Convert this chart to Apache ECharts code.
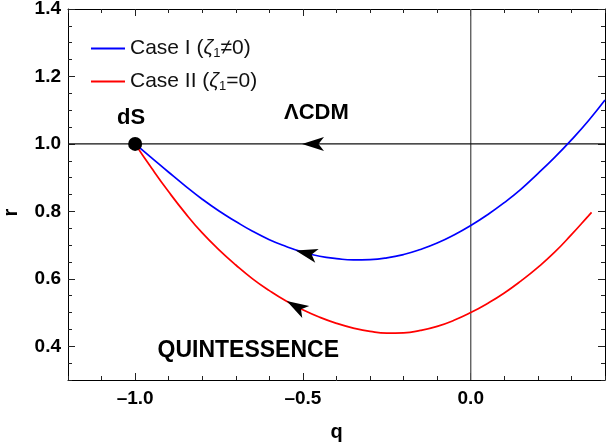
<!DOCTYPE html>
<html>
<head>
<meta charset="utf-8">
<script src="https://cdn.jsdelivr.net/npm/echarts@6/dist/echarts.min.js"></script>
<style>
  html, body { margin: 0; padding: 0; background: #fff; }
  #chart { width: 606px; height: 446px; }
</style>
</head>
<body>
<div id="chart"></div>
<script>
// q grid shared by both trajectories
const qGrid = [-1.00, -0.95, -0.90, -0.85, -0.80, -0.75, -0.70, -0.65, -0.60, -0.55,
  -0.50, -0.45, -0.40, -0.35, -0.30, -0.25, -0.20, -0.15, -0.10, -0.05,
  0.00, 0.05, 0.10, 0.15, 0.20, 0.25, 0.30, 0.35, 0.40]
// Case I (zeta1 != 0)
const blueR = [1.000, 0.958, 0.916, 0.875, 0.836, 0.801, 0.770, 0.741, 0.716, 0.696,
  0.679, 0.667, 0.660, 0.656, 0.657, 0.662, 0.672, 0.687, 0.706, 0.730,
  0.758, 0.790, 0.826, 0.866, 0.912, 0.960, 1.012, 1.068, 1.130]
// Case II (zeta1 = 0)
const redQ = [-1.00, -0.95, -0.90, -0.85, -0.80, -0.75, -0.70, -0.65, -0.60, -0.55,
  -0.50, -0.45, -0.40, -0.35, -0.30, -0.25, -0.20, -0.15, -0.10, -0.05,
  0.00, 0.05, 0.10, 0.15, 0.20, 0.25, 0.30, 0.35, 0.36]
const redR = [1.000, 0.927, 0.858, 0.794, 0.736, 0.686, 0.641, 0.600, 0.565, 0.534,
  0.508, 0.486, 0.468, 0.454, 0.444, 0.439, 0.440, 0.447, 0.459, 0.477,
  0.500, 0.527, 0.558, 0.594, 0.634, 0.679, 0.731, 0.786, 0.797]

const xMajor = [-1.0, -0.5, 0.0]
const xMinor = [-1.2, -1.1, -0.9, -0.8, -0.7, -0.6, -0.4, -0.3, -0.2, -0.1, 0.1, 0.2, 0.3, 0.4]
const yMajor = [0.4, 0.6, 0.8, 1.0, 1.2, 1.4]
const yMinor = [0.3, 0.35, 0.45, 0.5, 0.55, 0.65, 0.7, 0.75, 0.85, 0.9, 0.95, 1.05, 1.1, 1.15, 1.25, 1.3, 1.35]

const dSPoint = [-1.0, 1.0]
const lcdmLine = [[-1.2, 1.0], [0.4, 1.0]]
const qZeroLine = [[0.0, 0.3], [0.0, 1.4]]
// arrow heads: position on curve and tilt (deg)
const arrowPts = [[-0.49, 0.676], [-0.52, 0.518], [-0.47, 1.0]]
const arrowTilt = [14, 30, 0]
const annotText = ['dS', 'ΛCDM', 'QUINTESSENCE']
const annotPos = [[-1.012, 1.078], [-0.46, 1.092], [-0.663, 0.388]]
const annotSize = [22, 22, 23]

const font = 'Liberation Sans, Arial, sans-serif'
const zip = (a, b) => a.map((v, i) => [v, b[i]])
const fmt = (v) => v.toFixed(1).replace('-', '\u2013')

function xAxis(pos, ticks, len, withLabels, withLine) {
  return {
    type: 'value', position: pos, min: -1.2, max: 0.4,
    axisLine: { show: withLine, onZero: false, lineStyle: { color: '#000', width: 1 } },
    axisTick: { show: true, inside: true, length: len, customValues: ticks, lineStyle: { color: '#222', width: 1 } },
    axisLabel: withLabels
      ? { show: true, customValues: xMajor, formatter: fmt, fontFamily: font, fontWeight: 'bold', fontSize: 19, color: '#000', margin: 9 }
      : { show: false },
    splitLine: { show: false },
    name: withLabels ? 'q' : '', nameLocation: 'middle', nameGap: 42,
    nameTextStyle: { fontFamily: font, fontWeight: 'bold', fontSize: 20, color: '#000' }
  }
}
function yAxis(pos, ticks, len, withLabels, withLine) {
  return {
    type: 'value', position: pos, min: 0.3, max: 1.4,
    axisLine: { show: withLine, onZero: false, lineStyle: { color: '#000', width: 1 } },
    axisTick: { show: true, inside: true, length: len, customValues: ticks, lineStyle: { color: '#222', width: 1 } },
    axisLabel: withLabels
      ? { show: true, customValues: yMajor, formatter: fmt, fontFamily: font, fontWeight: 'bold', fontSize: 19, color: '#000', margin: 7 }
      : { show: false },
    splitLine: { show: false },
    name: withLabels ? 'r' : '', nameLocation: 'middle', nameGap: 47, nameRotate: 90,
    nameTextStyle: { fontFamily: font, fontWeight: 'bold', fontSize: 20, color: '#000', padding: [0, 36, 0, 0] }
  }
}

const chart = echarts.init(document.getElementById('chart'))
chart.setOption({
  animation: false,
  backgroundColor: '#fff',
  grid: { left: 68, right: 1, top: 9, bottom: 66, containLabel: false, outerBoundsMode: 'none' },
  xAxis: [
    xAxis('bottom', xMajor, 7, true, true),
    xAxis('bottom', xMinor, 4, false, false),
    xAxis('top', xMajor, 7, false, true),
    xAxis('top', xMinor, 4, false, false)
  ],
  yAxis: [
    yAxis('left', yMajor, 7, true, true),
    yAxis('left', yMinor, 4, false, false),
    yAxis('right', yMajor, 7, false, true),
    yAxis('right', yMinor, 4, false, false)
  ],
  legend: {
    orient: 'vertical', left: 86, top: 33, itemWidth: 34, itemHeight: 2, itemGap: 11,
    icon: 'rect', data: ['Case I', 'Case II'],
    formatter: (name) => name === 'Case I' ? 'Case I ({z|ζ}{s|1}≠0)' : 'Case II ({z|ζ}{s|1}=0)',
    textStyle: {
      fontFamily: font, fontSize: 21, color: '#111',
      rich: {
        z: { fontFamily: font, fontSize: 21, fontStyle: 'italic', color: '#111' },
        s: { fontFamily: font, fontSize: 13, color: '#111', padding: [10, 0, 0, 0] }
      }
    }
  },
  series: [
    {
      type: 'line', name: 'qzero', data: qZeroLine, symbol: 'none', silent: true,
      lineStyle: { color: '#555', width: 1.3 }, z: 1
    },
    {
      type: 'line', name: 'lcdm', data: lcdmLine, symbol: 'none', silent: true,
      lineStyle: { color: '#111', width: 1.1 }, z: 1,
      markPoint: {
        symbol: 'path://M0,6 L16,0 L12,6 L16,12 Z',
        symbolSize: [22, 14],
        itemStyle: { color: '#000' },
        label: { show: false },
        data: arrowPts.map((p, i) => ({ coord: p, symbolRotate: -arrowTilt[i] }))
      }
    },
    {
      type: 'line', name: 'Case I', data: zip(qGrid, blueR), symbol: 'none', smooth: 0.5,
      lineStyle: { color: '#0000ff', width: 1.7 }, itemStyle: { color: '#0000ff' }, z: 2
    },
    {
      type: 'line', name: 'Case II', data: zip(redQ, redR), symbol: 'none', smooth: 0.5,
      lineStyle: { color: '#ff0000', width: 1.7 }, itemStyle: { color: '#ff0000' }, z: 2
    },
    {
      type: 'scatter', name: 'dS', data: [dSPoint], symbolSize: 14,
      itemStyle: { color: '#000', opacity: 1 }, z: 5
    },
    {
      type: 'scatter', name: 'labels', symbolSize: 0, z: 6,
      itemStyle: { opacity: 1 },
      data: annotPos.map((p, i) => ({
        value: p, name: annotText[i],
        label: { fontSize: annotSize[i] }
      })),
      label: {
        show: true, position: 'inside', formatter: '{b}',
        fontFamily: font, fontWeight: 'bold', color: '#000'
      }
    }
  ]
})
</script>
</body>
</html>
